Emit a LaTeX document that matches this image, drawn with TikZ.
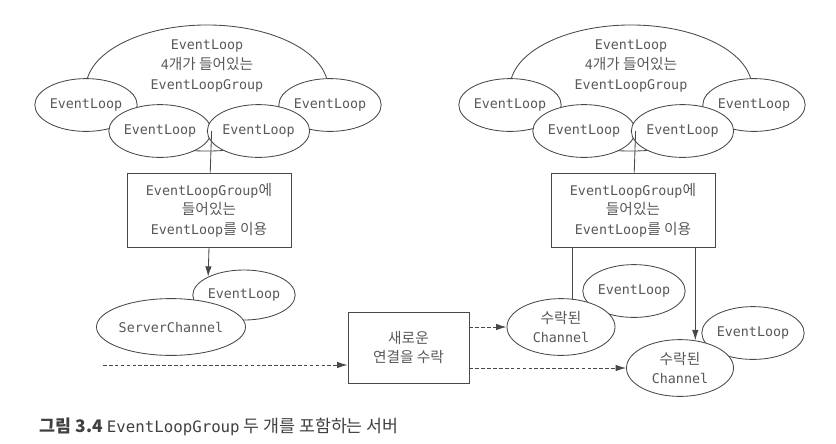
\documentclass[tikz,border=0pt]{standalone}
\usepackage{fontspec}
\setmainfont{DejaVu Sans Mono}
\setmonofont{DejaVu Sans Mono}
\newfontfamily\kr[Scale=1.1]{Noto Sans CJK KR}
\usetikzlibrary{shapes.geometric,arrows.meta}
\definecolor{ink}{RGB}{72,72,72}
\definecolor{txt}{RGB}{88,88,88}

\begin{document}
\begin{tikzpicture}[
  x=0.025cm, y=-0.025cm,
  every node/.style={font=\fontsize{9.5}{14}\selectfont, text=txt},
  >={Latex[length=2.6mm,width=1.6mm]},
  grp/.style={ellipse, draw=ink, line width=0.6pt, inner sep=0pt, minimum width=6.05cm, minimum height=3.15cm},
  lp/.style={ellipse, draw=ink, line width=0.6pt, fill=white, inner sep=0pt, minimum width=2.45cm, minimum height=1.32cm},
  chan/.style={ellipse, draw=ink, line width=0.6pt, fill=white, inner sep=0pt, align=center, minimum height=1.42cm},
  usebox/.style={draw=ink, line width=0.6pt, fill=white, align=center, minimum width=4.1cm, minimum height=1.85cm},
  link/.style={draw=ink, line width=0.6pt},
  dashlink/.style={draw=ink, line width=0.6pt, dash pattern=on 2.6pt off 1.6pt},
]
\useasboundingbox (0,0) rectangle (836,443);

% ---- left group: boss EventLoopGroup ----
\node[grp] (grpL) at (207,88) {};
\node[align=center] (grpLlbl) at (207,66) {EventLoop\\4{\kr 개가 들어있는}\\EventLoopGroup};
\node[lp] (elLa) at (86,105) {EventLoop};
\node[lp] (elLd) at (330,105) {EventLoop};
\node[lp] (elLb) at (160,131) {EventLoop};
\node[lp] (elLc) at (258.5,131) {EventLoop};

\node[usebox] (useL) at (209,210) {EventLoopGroup{\kr 에}\\{\kr 들어있는}\\EventLoop{\kr 를 이용}};

% ---- server channel ----
\node[lp, minimum width=2.475cm, minimum height=1.25cm] (elSrv) at (244,295) {EventLoop};
\node[chan, minimum width=3.725cm] (srv) at (171,327) {ServerChannel};

% ---- right group: worker EventLoopGroup ----
\node[grp] (grpR) at (631,88) {};
\node[align=center] (grpRlbl) at (631,66) {EventLoop\\4{\kr 개가 들어있는}\\EventLoopGroup};
\node[lp] (elRa) at (510,105) {EventLoop};
\node[lp] (elRd) at (754,105) {EventLoop};
\node[lp] (elRb) at (584,131) {EventLoop};
\node[lp] (elRc) at (682.5,131) {EventLoop};

\node[usebox] (useR) at (633,210) {EventLoopGroup{\kr 에}\\{\kr 들어있는}\\EventLoop{\kr 를 이용}};

% ---- accept box ----
\node[draw=ink, line width=0.6pt, align=center, minimum width=3.025cm, minimum height=1.775cm] (acc) at (408.5,347.5) {{\kr 새로운}\\{\kr 연결을 수락}};
\coordinate (inL) at (103,365);

% ---- accepted channels ----
\node[lp] (elC1) at (634,291) {EventLoop};
\node[chan, minimum width=2.7cm] (ch1) at (561,327) {{\kr 수락된}\\Channel};
\node[lp] (elC2) at (753,333) {EventLoop};
\node[chan, minimum width=2.675cm] (ch2) at (680,368) {{\kr 수락된}\\Channel};

% ============ connectors ============
\draw[link] (elLb.east) -- (useL);
\draw[link] (elRb.east) -- (useR);
\draw[link, ->] (useL.south) -- (elSrv.153);

\draw[link] (ch1.68) -- (ch1.68 |- useR.south);
\draw[link, ->] (ch2.61 |- useR.south) -- (ch2.61);

\draw[dashlink, ->] (inL) -- (inL -| acc.west);
\draw[dashlink, ->] (acc.east |- ch1.west) -- (ch1.west);
\draw[dashlink, ->] (acc.east |- ch2.west) -- (ch2.west);

% ---- caption ----
\node[anchor=west, font=\fontsize{11.2}{13}\selectfont, text=black!75] (cap) at (35,427) {{\kr\bfseries 그림 3.4\ }EventLoopGroup{\kr\ 두 개를 포함하는 서버}};

\end{tikzpicture}
\end{document}
